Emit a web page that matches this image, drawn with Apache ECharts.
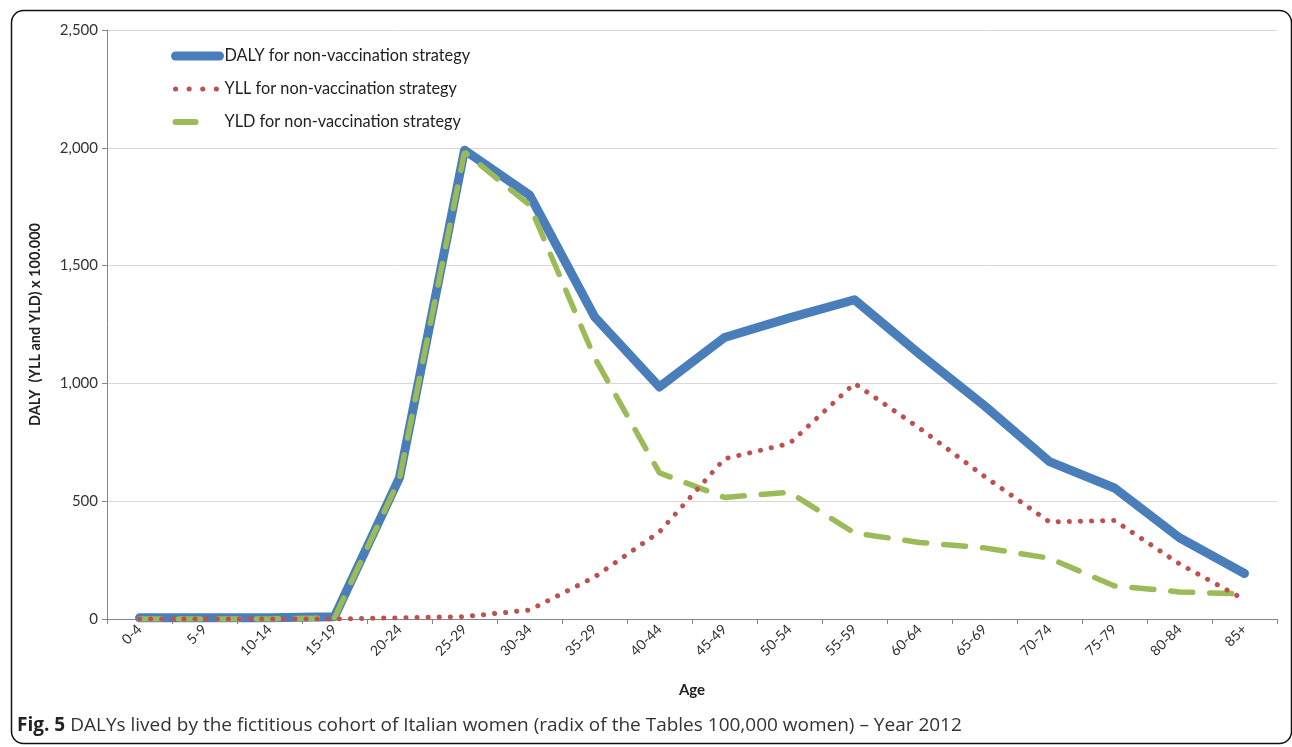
<!DOCTYPE html>
<html>
<head>
<meta charset="utf-8">
<script src="https://cdn.jsdelivr.net/npm/echarts@6/dist/echarts.min.js"></script>
<style>
html,body{margin:0;padding:0;background:#fff;}
#chart{width:1292px;height:747px;}
</style>
</head>
<body>
<div id="chart"></div>
<script>
var ageGroups = ['0-4','5-9','10-14','15-19','20-24','25-29','30-34','35-29','40-44','45-49','50-54','55-59','60-64','65-69','70-74','75-79','80-84','85+'];
var dalyValues = [5, 5, 5, 10, 600, 1990, 1800, 1283, 985, 1195, 1278, 1355, 1125, 905, 668, 556, 345, 193];
var yllValues = [0, 0, 0, 0, 5, 10, 38, 178, 370, 680, 745, 1000, 810, 605, 412, 418, 234, 82];
var yldValues = [0, 0, 0, 5, 595, 1982, 1757, 1110, 620, 516, 538, 365, 325, 302, 258, 140, 115, 106];
var seriesNames = ['DALY for non-vaccination strategy', 'YLL for non-vaccination strategy', 'YLD for non-vaccination strategy'];
var yTicks = {min: 0, max: 2500, interval: 500};

var chart = echarts.init(document.getElementById('chart'));
var font = 'Lato';
chart.setOption({
  animation: false,
  backgroundColor: '#ffffff',
  grid: {left: 107, right: 15, top: 30, bottom: 128, containLabel: false},
  title: {
    left: 12, top: 711,
    text: '{b|Fig. 5} {n|DALYs lived by the fictitious cohort of Italian women (radix of the Tables 100,000 women) – Year 2012}',
    textStyle: {
      fontWeight: 'normal',
      rich: {
        b: {fontFamily: 'Open Sans', fontWeight: 'bold', fontSize: 19, color: '#222'},
        n: {fontFamily: 'Open Sans', fontWeight: 'normal', fontSize: 19, color: '#333'}
      }
    }
  },
  graphic: [{
    type: 'rect', left: 9, top: 8, silent: true,
    shape: {width: 1280, height: 733, r: 12},
    style: {fill: 'none', stroke: '#111', lineWidth: 1.5}
  }],
  legend: {
    orient: 'vertical', left: 166, top: 43,
    itemWidth: 44, itemHeight: 14, itemGap: 17,
    textStyle: {fontFamily: font, fontSize: 16.3, color: '#222'},
    itemStyle: {opacity: 0},
    data: [
      {name: seriesNames[0], lineStyle: {width: 9, cap: 'round'}},
      {name: seriesNames[1], lineStyle: {width: 5, type: [0.1, 13.5], cap: 'round'}},
      {name: seriesNames[2], lineStyle: {width: 6, type: [20, 60], cap: 'round'}}
    ]
  },
  xAxis: {
    type: 'category', data: ageGroups, boundaryGap: true,
    name: 'Age', nameLocation: 'middle', nameGap: 64,
    nameTextStyle: {fontFamily: font, fontWeight: 'bold', fontSize: 15, color: '#222'},
    axisLine: {lineStyle: {color: '#868686', width: 1}},
    axisTick: {show: true, alignWithLabel: false, length: 5, lineStyle: {color: '#868686'}},
    axisLabel: {rotate: 45, fontFamily: font, fontSize: 14, color: '#333', margin: 8, interval: 0},
    splitLine: {show: false}
  },
  yAxis: {
    type: 'value', min: yTicks.min, max: yTicks.max, interval: yTicks.interval,
    name: 'DALY  (YLL and YLD) x 100.000', nameLocation: 'middle', nameGap: 64, nameRotate: 90,
    nameTextStyle: {fontFamily: font, fontWeight: 'bold', fontSize: 14.5, color: '#222'},
    axisLine: {show: true, lineStyle: {color: '#868686', width: 1}},
    axisTick: {show: true, length: 5, lineStyle: {color: '#868686'}},
    axisLabel: {fontFamily: font, fontSize: 15, color: '#333', margin: 9,
      formatter: function (v) { return v.toLocaleString('en-US'); }},
    splitLine: {show: true, lineStyle: {color: '#d9d9d9', width: 1}}
  },
  series: [
    {
      name: seriesNames[0], type: 'line', data: dalyValues,
      symbol: 'none', z: 2,
      lineStyle: {color: '#4a7ebb', width: 9, join: 'round', cap: 'round'},
      itemStyle: {color: '#4a7ebb'}
    },
    {
      name: seriesNames[1], type: 'line', data: yllValues,
      symbol: 'none', z: 4,
      lineStyle: {color: '#c0504d', width: 5, type: [0.1, 11], cap: 'round'},
      itemStyle: {color: '#c0504d'}
    },
    {
      name: seriesNames[2], type: 'line', data: yldValues,
      symbol: 'none', z: 3,
      lineStyle: {color: '#9bbb59', width: 5.5, type: [22, 17], cap: 'round'},
      itemStyle: {color: '#9bbb59'}
    }
  ]
});
</script>
</body>
</html>
